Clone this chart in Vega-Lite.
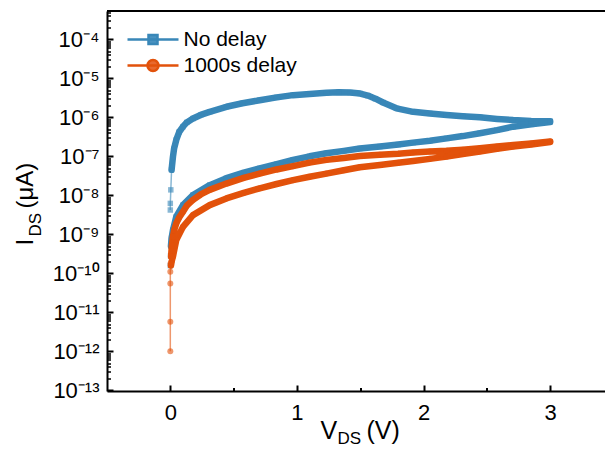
{
  "$schema": "https://vega.github.io/schema/vega-lite/v6.json",
  "width": 498,
  "height": 380,
  "autosize": "none",
  "padding": {"left": 107, "top": 11, "right": 0, "bottom": 77},
  "background": "white",
  "config": {
    "view": {"stroke": null},
    "font": "Liberation Sans",
    "axis": {"grid": false, "domainColor": "black", "tickColor": "black", "labelColor": "black", "titleColor": "black", "labelFont": "Liberation Sans", "titleFont": "Liberation Sans", "titleFontWeight": "normal"},
    "legend": {"labelFont": "Liberation Sans"}
  },
  "data": {"values": [
    {"s":"No delay","i":0,"V":0.0,"I":1.58e-10},
    {"s":"No delay","i":1,"V":0.002,"I":2.82e-10},
    {"s":"No delay","i":2,"V":0.005,"I":5.0e-10},
    {"s":"No delay","i":3,"V":0.010,"I":7.9e-10},
    {"s":"No delay","i":4,"V":0.021,"I":1.29e-9},
    {"s":"No delay","i":5,"V":0.047,"I":2.82e-9},
    {"s":"No delay","i":6,"V":0.10,"I":5.6e-9},
    {"s":"No delay","i":7,"V":0.179,"I":1.02e-8},
    {"s":"No delay","i":8,"V":0.311,"I":1.82e-8},
    {"s":"No delay","i":9,"V":0.443,"I":2.75e-8},
    {"s":"No delay","i":10,"V":0.58,"I":3.8e-8},
    {"s":"No delay","i":11,"V":0.706,"I":4.9e-8},
    {"s":"No delay","i":12,"V":0.84,"I":6.3e-8},
    {"s":"No delay","i":13,"V":0.969,"I":8.1e-8},
    {"s":"No delay","i":14,"V":1.10,"I":1.0e-7},
    {"s":"No delay","i":15,"V":1.233,"I":1.2e-7},
    {"s":"No delay","i":16,"V":1.37,"I":1.38e-7},
    {"s":"No delay","i":17,"V":1.496,"I":1.58e-7},
    {"s":"No delay","i":18,"V":1.655,"I":1.78e-7},
    {"s":"No delay","i":19,"V":1.80,"I":2.0e-7},
    {"s":"No delay","i":20,"V":1.918,"I":2.24e-7},
    {"s":"No delay","i":21,"V":2.05,"I":2.5e-7},
    {"s":"No delay","i":22,"V":2.182,"I":2.88e-7},
    {"s":"No delay","i":23,"V":2.31,"I":3.3e-7},
    {"s":"No delay","i":24,"V":2.445,"I":3.9e-7},
    {"s":"No delay","i":25,"V":2.58,"I":4.7e-7},
    {"s":"No delay","i":26,"V":2.708,"I":5.75e-7},
    {"s":"No delay","i":27,"V":2.85,"I":6.6e-7},
    {"s":"No delay","i":28,"V":3.0,"I":7.6e-7},
    {"s":"No delay","i":29,"V":3.0,"I":7.9e-7},
    {"s":"No delay","i":30,"V":2.85,"I":8.1e-7},
    {"s":"No delay","i":31,"V":2.708,"I":8.5e-7},
    {"s":"No delay","i":32,"V":2.58,"I":9.1e-7},
    {"s":"No delay","i":33,"V":2.445,"I":1.0e-6},
    {"s":"No delay","i":34,"V":2.31,"I":1.07e-6},
    {"s":"No delay","i":35,"V":2.182,"I":1.15e-6},
    {"s":"No delay","i":36,"V":2.05,"I":1.26e-6},
    {"s":"No delay","i":37,"V":1.918,"I":1.38e-6},
    {"s":"No delay","i":38,"V":1.786,"I":1.7e-6},
    {"s":"No delay","i":39,"V":1.68,"I":2.4e-6},
    {"s":"No delay","i":40,"V":1.62,"I":3.0e-6},
    {"s":"No delay","i":41,"V":1.56,"I":3.6e-6},
    {"s":"No delay","i":42,"V":1.50,"I":4.07e-6},
    {"s":"No delay","i":43,"V":1.42,"I":4.3e-6},
    {"s":"No delay","i":44,"V":1.33,"I":4.37e-6},
    {"s":"No delay","i":45,"V":1.233,"I":4.27e-6},
    {"s":"No delay","i":46,"V":1.10,"I":3.98e-6},
    {"s":"No delay","i":47,"V":0.969,"I":3.7e-6},
    {"s":"No delay","i":48,"V":0.84,"I":3.24e-6},
    {"s":"No delay","i":49,"V":0.706,"I":2.75e-6},
    {"s":"No delay","i":50,"V":0.57,"I":2.29e-6},
    {"s":"No delay","i":51,"V":0.443,"I":1.86e-6},
    {"s":"No delay","i":52,"V":0.311,"I":1.38e-6},
    {"s":"No delay","i":53,"V":0.24,"I":1.15e-6},
    {"s":"No delay","i":54,"V":0.179,"I":9.3e-7},
    {"s":"No delay","i":55,"V":0.13,"I":7.4e-7},
    {"s":"No delay","i":56,"V":0.10,"I":5.75e-7},
    {"s":"No delay","i":57,"V":0.07,"I":4.2e-7},
    {"s":"No delay","i":58,"V":0.047,"I":2.63e-7},
    {"s":"No delay","i":59,"V":0.03,"I":1.58e-7},
    {"s":"No delay","i":60,"V":0.021,"I":9.8e-8},
    {"s":"No delay","i":61,"V":0.01,"I":4.5e-8},
    {"s":"No delay","i":62,"V":0.004,"I":1.38e-8},
    {"s":"No delay","i":63,"V":0.0,"I":6.2e-9},
    {"s":"No delay","i":64,"V":0.0,"I":4.2e-9},
    {"s":"1000s delay","i":0,"V":0.0,"I":1.0e-12},
    {"s":"1000s delay","i":1,"V":0.0,"I":5.75e-12},
    {"s":"1000s delay","i":2,"V":0.0,"I":5.5e-11},
    {"s":"1000s delay","i":3,"V":0.0,"I":1.1e-10},
    {"s":"1000s delay","i":4,"V":0.005,"I":1.58e-10},
    {"s":"1000s delay","i":5,"V":0.012,"I":2.1e-10},
    {"s":"1000s delay","i":6,"V":0.021,"I":2.7e-10},
    {"s":"1000s delay","i":7,"V":0.047,"I":7.1e-10},
    {"s":"1000s delay","i":8,"V":0.10,"I":1.55e-9},
    {"s":"1000s delay","i":9,"V":0.179,"I":3.1e-9},
    {"s":"1000s delay","i":10,"V":0.311,"I":5.6e-9},
    {"s":"1000s delay","i":11,"V":0.443,"I":8.3e-9},
    {"s":"1000s delay","i":12,"V":0.58,"I":1.15e-8},
    {"s":"1000s delay","i":13,"V":0.706,"I":1.51e-8},
    {"s":"1000s delay","i":14,"V":0.84,"I":1.95e-8},
    {"s":"1000s delay","i":15,"V":0.969,"I":2.45e-8},
    {"s":"1000s delay","i":16,"V":1.10,"I":3.0e-8},
    {"s":"1000s delay","i":17,"V":1.233,"I":3.6e-8},
    {"s":"1000s delay","i":18,"V":1.37,"I":4.4e-8},
    {"s":"1000s delay","i":19,"V":1.496,"I":5.25e-8},
    {"s":"1000s delay","i":20,"V":1.655,"I":6.0e-8},
    {"s":"1000s delay","i":21,"V":1.80,"I":6.85e-8},
    {"s":"1000s delay","i":22,"V":1.918,"I":7.6e-8},
    {"s":"1000s delay","i":23,"V":2.05,"I":8.6e-8},
    {"s":"1000s delay","i":24,"V":2.182,"I":9.8e-8},
    {"s":"1000s delay","i":25,"V":2.31,"I":1.15e-7},
    {"s":"1000s delay","i":26,"V":2.445,"I":1.32e-7},
    {"s":"1000s delay","i":27,"V":2.58,"I":1.55e-7},
    {"s":"1000s delay","i":28,"V":2.708,"I":1.78e-7},
    {"s":"1000s delay","i":29,"V":2.85,"I":2.0e-7},
    {"s":"1000s delay","i":30,"V":3.0,"I":2.34e-7},
    {"s":"1000s delay","i":31,"V":3.0,"I":2.4e-7},
    {"s":"1000s delay","i":32,"V":2.85,"I":2.14e-7},
    {"s":"1000s delay","i":33,"V":2.708,"I":1.95e-7},
    {"s":"1000s delay","i":34,"V":2.58,"I":1.78e-7},
    {"s":"1000s delay","i":35,"V":2.445,"I":1.62e-7},
    {"s":"1000s delay","i":36,"V":2.31,"I":1.48e-7},
    {"s":"1000s delay","i":37,"V":2.182,"I":1.38e-7},
    {"s":"1000s delay","i":38,"V":2.05,"I":1.32e-7},
    {"s":"1000s delay","i":39,"V":1.918,"I":1.26e-7},
    {"s":"1000s delay","i":40,"V":1.80,"I":1.17e-7},
    {"s":"1000s delay","i":41,"V":1.655,"I":1.1e-7},
    {"s":"1000s delay","i":42,"V":1.496,"I":1.02e-7},
    {"s":"1000s delay","i":43,"V":1.37,"I":9.1e-8},
    {"s":"1000s delay","i":44,"V":1.233,"I":8.1e-8},
    {"s":"1000s delay","i":45,"V":1.10,"I":6.9e-8},
    {"s":"1000s delay","i":46,"V":0.969,"I":5.6e-8},
    {"s":"1000s delay","i":47,"V":0.84,"I":4.6e-8},
    {"s":"1000s delay","i":48,"V":0.706,"I":3.6e-8},
    {"s":"1000s delay","i":49,"V":0.58,"I":2.8e-8},
    {"s":"1000s delay","i":50,"V":0.443,"I":2.0e-8},
    {"s":"1000s delay","i":51,"V":0.311,"I":1.38e-8},
    {"s":"1000s delay","i":52,"V":0.24,"I":1.05e-8},
    {"s":"1000s delay","i":53,"V":0.179,"I":7.6e-9},
    {"s":"1000s delay","i":54,"V":0.13,"I":5.4e-9},
    {"s":"1000s delay","i":55,"V":0.10,"I":3.8e-9},
    {"s":"1000s delay","i":56,"V":0.07,"I":2.7e-9},
    {"s":"1000s delay","i":57,"V":0.047,"I":1.9e-9},
    {"s":"1000s delay","i":58,"V":0.03,"I":1.26e-9},
    {"s":"1000s delay","i":59,"V":0.021,"I":8.7e-10},
    {"s":"1000s delay","i":60,"V":0.012,"I":5.0e-10},
    {"s":"1000s delay","i":61,"V":0.006,"I":2.7e-10},
    {"s":"1000s delay","i":62,"V":0.002,"I":1.78e-10}
  ]},
  "resolve": {"axis": {"x": "independent", "y": "independent"}},
  "layer": [
    {
      "transform": [{"filter": "datum.s === 'No delay' && datum.V >= 0.005"}],
      "mark": {"type": "line", "strokeWidth": 6.5, "strokeCap": "round", "strokeJoin": "round"},
      "encoding": {
        "x": {"field": "V", "type": "quantitative", "scale": {"type": "linear", "domain": [-0.5, 3.433], "nice": false, "zero": false},
          "axis": {"orient": "bottom", "values": [0, 1, 2, 3], "format": "d", "ticks": false, "tickSize": 0, "domainWidth": 2, "labelFontSize": 22, "labelPadding": 11, "labelBaseline": "top",
            "title": "V", "titleFontSize": 25, "titleX": 213, "titleY": 47, "titleAlign": "left", "titleBaseline": "alphabetic", "titleAnchor": null}},
        "y": {"field": "I", "type": "quantitative", "scale": {"type": "log", "domain": [9.6e-14, 5.32e-4], "nice": false},
          "axis": {"orient": "left", "values": [1e-4, 1e-5, 1e-6, 1e-7, 1e-8, 1e-9, 1e-10, 1e-11, 1e-12, 1e-13], "ticks": false, "tickSize": 0, "domainWidth": 2, "labelFontSize": 22, "labelPadding": 8,
            "labelExpr": "'10⁻' + (round(-log(datum.value)/LN10) >= 10 ? '¹' + ['⁰','¹','²','³','⁴','⁵','⁶','⁷','⁸','⁹'][round(-log(datum.value)/LN10) - 10] : ['⁰','¹','²','³','⁴','⁵','⁶','⁷','⁸','⁹'][round(-log(datum.value)/LN10)])",
            "title": "I", "titleFontSize": 24, "titleX": -75, "titleY": 234, "titleAngle": 270, "titleAlign": "left", "titleBaseline": "alphabetic", "titleAnchor": null}},
        "color": {"field": "s", "type": "nominal", "scale": {"domain": ["No delay", "1000s delay"], "range": ["#3987b8", "#e2520b"]},
          "legend": {"orient": "none", "legendX": 35.5, "legendY": 18, "title": null, "labelFontSize": 21, "labelColor": "black", "symbolSize": 144, "symbolStrokeWidth": 2.5, "labelOffset": 20, "rowPadding": 4, "padding": 0,
            "encode": {"symbols": {"update": {
              "shape": {"signal": "datum.value === 'No delay' ? 'M-4.25,0H4.25M-0.75,-0.75H0.75V0.75H-0.75Z' : 'M-4.25,0H4.25M0.92,0A0.92,0.92,0,1,1,-0.92,0A0.92,0.92,0,1,1,0.92,0Z'"},
              "fill": {"signal": "datum.value === 'No delay' ? '#4a92c0' : '#e8692e'"},
              "stroke": {"signal": "datum.value === 'No delay' ? '#6aa7cf' : '#ef8c5c'"},
              "fillOpacity": {"value": 1}, "strokeOpacity": {"value": 1}, "opacity": {"value": 1}}}}}},
        "order": {"field": "i", "type": "quantitative"}
      }
    },
    {
      "transform": [{"filter": "datum.s === 'No delay'"}],
      "mark": {"type": "line", "strokeWidth": 1.5, "color": "#3987b8", "opacity": 0.6},
      "encoding": {
        "x": {"field": "V", "type": "quantitative", "scale": {"type": "linear", "domain": [-0.5, 3.433], "nice": false, "zero": false},
          "axis": {"orient": "bottom", "translate": -5.5, "tickOffset": 6, "domain": false, "ticks": true, "tickSize": 6, "tickWidth": 2, "values": [0, 1, 2, 3], "labels": false,
            "title": "DS", "titleFontSize": 17, "titleX": 236, "titleY": 58, "titleAlign": "left", "titleBaseline": "alphabetic", "titleAnchor": null}},
        "y": {"field": "I", "type": "quantitative", "scale": {"type": "log", "domain": [9.6e-14, 5.32e-4], "nice": false},
          "axis": {"orient": "left", "translate": 6.5, "tickOffset": -6, "domain": false, "ticks": true, "tickSize": 6, "tickWidth": 2, "values": [1e-4, 1e-5, 1e-6, 1e-7, 1e-8, 1e-9, 1e-10, 1e-11, 1e-12, 1e-13], "labels": false,
            "title": "DS", "titleFontSize": 17, "titleX": -73, "titleY": 219, "titleAngle": 270, "titleAlign": "left", "titleBaseline": "alphabetic", "titleAnchor": null}},
        "order": {"field": "i", "type": "quantitative"}
      }
    },
    {
      "transform": [{"filter": "datum.s === 'No delay'"}],
      "mark": {"type": "point", "shape": "square", "filled": true, "size": 30, "color": "#3987b8", "opacity": 0.6},
      "encoding": {
        "x": {"field": "V", "type": "quantitative", "scale": {"type": "linear", "domain": [-0.5, 3.433], "nice": false, "zero": false}, "axis": null},
        "y": {"field": "I", "type": "quantitative", "scale": {"type": "log", "domain": [9.6e-14, 5.32e-4], "nice": false}, "axis": null}
      }
    },
    {
      "transform": [{"filter": "datum.s === '1000s delay' && datum.V >= 0.005"}],
      "mark": {"type": "line", "strokeWidth": 6.5, "strokeCap": "round", "strokeJoin": "round"},
      "encoding": {
        "x": {"field": "V", "type": "quantitative", "scale": {"type": "linear", "domain": [-0.5, 3.433], "nice": false, "zero": false},
          "axis": {"orient": "bottom", "translate": -3, "tickOffset": 3.5, "domain": false, "ticks": true, "tickSize": 3.5, "tickWidth": 2, "values": [0.5, 1.5, 2.5], "labels": false,
            "title": "(V)", "titleFontSize": 25, "titleX": 262.5, "titleY": 50.5, "titleAlign": "left", "titleBaseline": "alphabetic", "titleAnchor": null}},
        "y": {"field": "I", "type": "quantitative", "scale": {"type": "log", "domain": [9.6e-14, 5.32e-4], "nice": false},
          "axis": {"orient": "left", "translate": 4, "tickOffset": -3.5, "domain": false, "ticks": true, "tickSize": 3.5, "tickWidth": 1.5, "labels": false,
            "values": [2e-13,3e-13,4e-13,5e-13,6e-13,7e-13,8e-13,9e-13,2e-12,3e-12,4e-12,5e-12,6e-12,7e-12,8e-12,9e-12,2e-11,3e-11,4e-11,5e-11,6e-11,7e-11,8e-11,9e-11,2e-10,3e-10,4e-10,5e-10,6e-10,7e-10,8e-10,9e-10,2e-9,3e-9,4e-9,5e-9,6e-9,7e-9,8e-9,9e-9,2e-8,3e-8,4e-8,5e-8,6e-8,7e-8,8e-8,9e-8,2e-7,3e-7,4e-7,5e-7,6e-7,7e-7,8e-7,9e-7,2e-6,3e-6,4e-6,5e-6,6e-6,7e-6,8e-6,9e-6,2e-5,3e-5,4e-5,5e-5,6e-5,7e-5,8e-5,9e-5,2e-4,3e-4,4e-4,5e-4],
            "title": "(μA)", "titleFontSize": 24, "titleX": -78.5, "titleY": 193.5, "titleAngle": 270, "titleAlign": "left", "titleBaseline": "alphabetic", "titleAnchor": null}},
        "color": {"field": "s", "type": "nominal", "scale": {"domain": ["No delay", "1000s delay"], "range": ["#3987b8", "#e2520b"]}},
        "order": {"field": "i", "type": "quantitative"}
      }
    },
    {
      "transform": [{"filter": "datum.s === '1000s delay'"}],
      "mark": {"type": "line", "strokeWidth": 1.5, "color": "#e2520b", "opacity": 0.6},
      "encoding": {
        "x": {"field": "V", "type": "quantitative", "scale": {"type": "linear", "domain": [-0.5, 3.433], "nice": false, "zero": false}, "axis": null},
        "y": {"field": "I", "type": "quantitative", "scale": {"type": "log", "domain": [9.6e-14, 5.32e-4], "nice": false}, "axis": null},
        "order": {"field": "i", "type": "quantitative"}
      }
    },
    {
      "transform": [{"filter": "datum.s === '1000s delay'"}],
      "mark": {"type": "point", "shape": "circle", "filled": true, "size": 36, "color": "#e2520b", "opacity": 0.6},
      "encoding": {
        "x": {"field": "V", "type": "quantitative", "scale": {"type": "linear", "domain": [-0.5, 3.433], "nice": false, "zero": false}, "axis": null},
        "y": {"field": "I", "type": "quantitative", "scale": {"type": "log", "domain": [9.6e-14, 5.32e-4], "nice": false}, "axis": null}
      }
    },
    {
      "mark": {"type": "rule", "color": "black", "strokeWidth": 2},
      "encoding": {
        "x": {"datum": -0.5, "type": "quantitative", "scale": {"type": "linear", "domain": [-0.5, 3.433], "nice": false, "zero": false}, "axis": null},
        "x2": {"datum": 3.433},
        "y": {"datum": 5.32e-4, "type": "quantitative", "scale": {"type": "log", "domain": [9.6e-14, 5.32e-4], "nice": false}, "axis": null}
      }
    }
  ]
}
